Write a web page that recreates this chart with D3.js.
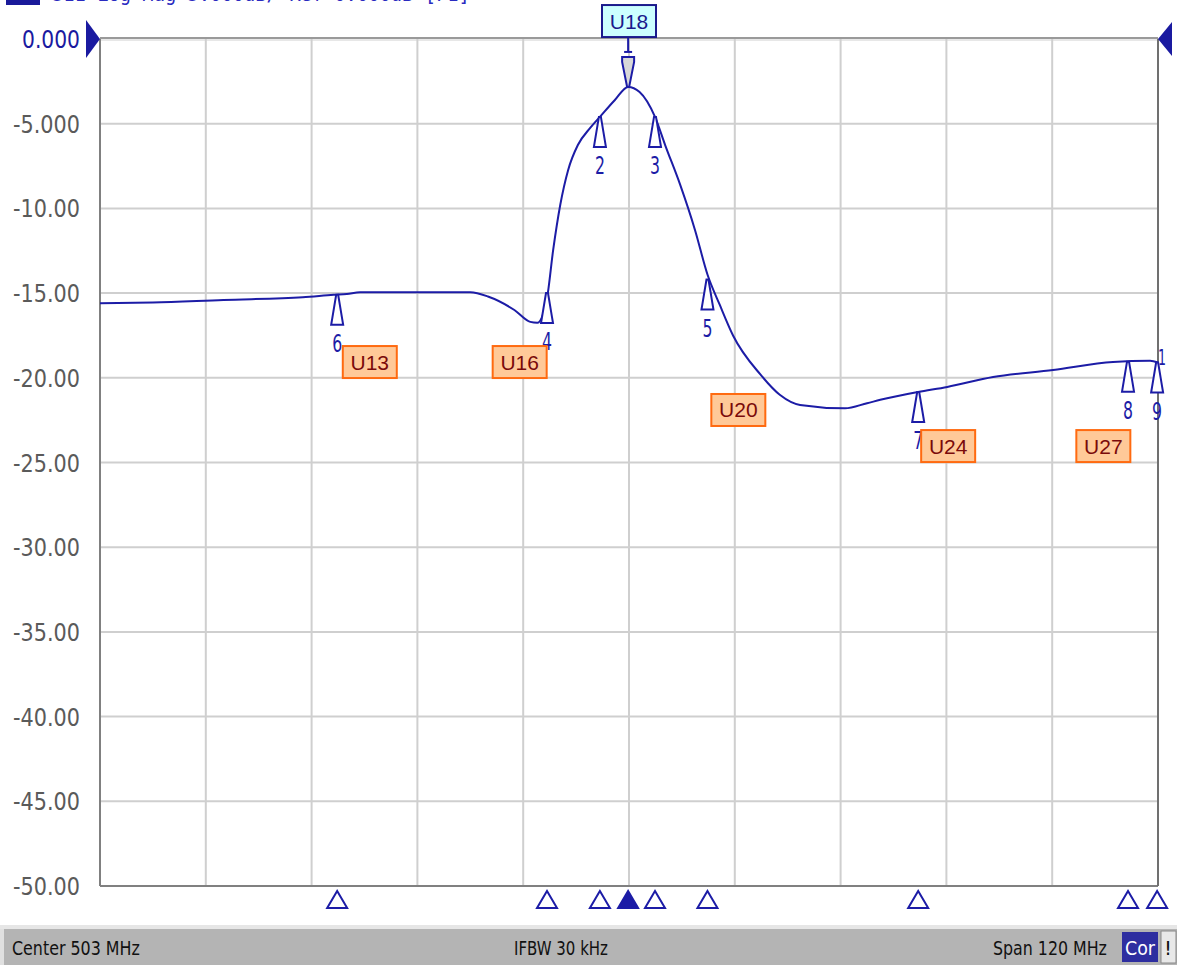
<!DOCTYPE html>
<html><head><meta charset="utf-8">
<script src="https://cdn.jsdelivr.net/npm/d3@7"></script>
<style>body{margin:0;background:#fff;overflow:hidden}</style>
</head><body><svg id="c" width="1177" height="965"></svg>
<script>
// ---- data ----
const traceFreq = [443, 449, 457, 466, 469.5, 471, 472.5, 485, 487, 490, 491.8, 492.6, 493.7, 494.4, 495.2, 496.1, 497.2, 498.6, 499.7, 501.4, 502.9, 504.2, 505.95, 507.1, 508.8, 510.5, 511.9, 513.3, 514.8, 517.9, 520.1, 522.4, 527.5, 530.0, 531.5, 535.8, 539.1, 544.3, 551.1, 557.9, 562.1, 563];
const traceDb = [-15.6, -15.55, -15.4, -15.25, -15.1, -15.05, -14.95, -14.95, -15.2, -16.0, -16.7, -16.75, -15.3, -12.45, -9.8, -7.73, -6.26, -5.25, -4.6, -3.6, -2.83, -3.13, -4.6, -6.26, -8.6, -11.3, -13.9, -15.7, -17.5, -19.8, -21.0, -21.6, -21.8, -21.5, -21.3, -20.84, -20.54, -19.95, -19.54, -19.07, -19.0, -19.1];
const markerNum = [1, 2, 3, 4, 5, 6, 7, 8, 9];
const markerFreq = [502.9, 499.7, 505.95, 493.7, 511.9, 469.9, 535.8, 559.6, 562.9];
const markerDb = [-2.83, -4.6, -4.6, -15.0, -14.2, -15.1, -20.84, -19.05, -19.1];
const yTicks = [0, -5, -10, -15, -20, -25, -30, -35, -40, -45, -50];
const yTickLabels = ["0.000", "-5.000", "-10.00", "-15.00", "-20.00", "-25.00", "-30.00", "-35.00", "-40.00", "-45.00", "-50.00"];
const xGridFreq = [443, 455, 467, 479, 491, 503, 515, 527, 539, 551, 563];
const annoText = ["U13", "U16", "U18", "U20", "U24", "U27"];
const annoFreq = [473.6, 490.6, 503.0, 515.4, 539.2, 556.8];
const annoDb = [-19.07, -19.07, 1.06, -21.9, -24.03, -24.03];
const annoActive = [false, false, true, false, false, false];
const headerText = "S11 Log Mag 5.000dB/ Ref 0.000dB [F1]";
const footerText = ["Center 503 MHz", "IFBW 30 kHz", "Span 120 MHz"];

// ---- drawing ----
const svg = d3.select("#c");
const x = d3.scaleLinear().domain([443, 563]).range([100, 1158]);
const y = d3.scaleLinear().domain([-50, 0]).range([886, 39]);
const navy = "#1c1ca6";

// condensed text helper: draws text then squeezes it horizontally to a target width
function narrowText(parent, str, px, py, width, opts) {
  const gg = parent.append("g");
  const t = gg.append("text").attr("x", 0).attr("y", 0)
    .attr("font-family", opts.family || "DejaVu Sans").attr("font-size", opts.size)
    .attr("fill", opts.fill).text(str);
  const w = t.node().getComputedTextLength();
  const sx = width / w;
  let ox = px;
  if (opts.anchor === "end") ox = px - width;
  else if (opts.anchor === "middle") ox = px - width / 2;
  gg.attr("transform", `translate(${ox},${py}) scale(${sx},1)`);
  return gg;
}

// header (clipped at top, only a sliver visible as in the reference)
svg.append("rect").attr("x", 6).attr("y", -20).attr("width", 34).attr("height", 25).attr("fill", "#1a1a9a");
narrowText(svg, headerText, 52, 1, 418, {family: "DejaVu Sans Mono", size: 22, fill: "#2a2ac0"});

// grid
const g = svg.append("g");
g.selectAll("line.vx").data(xGridFreq.slice(1, -1)).join("line")
  .attr("x1", d => x(d)).attr("x2", d => x(d)).attr("y1", y(0)).attr("y2", y(-50))
  .attr("stroke", "#cfcfcf").attr("stroke-width", 2);
g.selectAll("line.hy").data(yTicks.slice(1, -1)).join("line")
  .attr("x1", x(443)).attr("x2", x(563)).attr("y1", d => y(d)).attr("y2", d => y(d))
  .attr("stroke", "#cfcfcf").attr("stroke-width", 2);

// frame
g.append("line").attr("x1", x(443)).attr("x2", x(563)).attr("y1", y(0) - 1).attr("y2", y(0) - 1).attr("stroke", "#9a9a9a").attr("stroke-width", 2);
g.append("line").attr("x1", x(443)).attr("x2", x(563)).attr("y1", y(0) + 1).attr("y2", y(0) + 1).attr("stroke", "#d0d0d0").attr("stroke-width", 1);
g.append("line").attr("x1", x(443)).attr("x2", x(563)).attr("y1", y(-50)).attr("y2", y(-50)).attr("stroke", "#808080").attr("stroke-width", 2);
g.append("line").attr("x1", x(443)).attr("x2", x(443)).attr("y1", y(0)).attr("y2", y(-50)).attr("stroke", "#808080").attr("stroke-width", 2);
g.append("line").attr("x1", x(563)).attr("x2", x(563)).attr("y1", y(0)).attr("y2", y(-50)).attr("stroke", "#707070").attr("stroke-width", 2);

// y labels
yTicks.forEach((d, i) => {
  narrowText(svg, yTickLabels[i], 80, y(d) + 9, yTickLabels[i].length === 5 ? 58 : 67,
    {size: 25, fill: i === 0 ? "#1a1aa0" : "#5a5a5a", anchor: "end"});
});

// reference triangles
svg.append("path").attr("d", `M86,${y(0) - 19}L${x(443)},${y(0)}L86,${y(0) + 19}Z`).attr("fill", "#1a1aa0");
svg.append("path").attr("d", `M1172,${y(0) - 17}L${x(563)},${y(0)}L1172,${y(0) + 17}Z`).attr("fill", "#1a1aa0");

// trace
const pts = traceFreq.map((f, i) => [f, traceDb[i]]);
svg.append("path").datum(pts)
  .attr("d", d3.line().x(d => x(d[0])).y(d => y(d[1])).curve(d3.curveMonotoneX))
  .attr("fill", "none").attr("stroke", navy).attr("stroke-width", 2);

// markers on trace
const mk = markerNum.map((n, i) => ({n, f: markerFreq[i], db: markerDb[i]}));
mk.forEach(m => {
  const mx = x(m.f), my = y(m.db);
  if (m.n === 1) {
    svg.append("path").attr("d", `M${mx - 6},${my - 30}L${mx + 6},${my - 30}L${mx + 6},${my - 25}L${mx + 1},${my}L${mx - 1},${my}L${mx - 6},${my - 25}Z`)
      .attr("fill", "#d8d8d8").attr("stroke", navy).attr("stroke-width", 2);
    svg.append("line").attr("x1", mx).attr("x2", mx).attr("y1", my - 35).attr("y2", my - 52).attr("stroke", navy).attr("stroke-width", 2);
    svg.append("line").attr("x1", mx - 4).attr("x2", mx + 4).attr("y1", my - 35).attr("y2", my - 35).attr("stroke", navy).attr("stroke-width", 2);
  } else {
    svg.append("path").attr("d", `M${mx - 1},${my}L${mx + 1},${my}L${mx + 5},${my + 24}L${mx + 6},${my + 30}L${mx - 6},${my + 30}L${mx - 5},${my + 24}Z`)
      .attr("fill", "#fff").attr("stroke", navy).attr("stroke-width", 2);
    narrowText(svg, String(m.n), mx, my + 57, 10, {size: 24, fill: navy, anchor: "middle"});
  }
});
// overflow "1" at right edge
narrowText(svg, "1", x(563) + 4, y(-18.9) + 6, 8, {size: 22, fill: navy, anchor: "middle"});

// bottom marker triangles
mk.forEach(m => {
  const mx = x(m.f), by = y(-50) + 5;
  svg.append("path").attr("d", `M${mx},${by}L${mx + 10},${by + 17}L${mx - 10},${by + 17}Z`)
    .attr("fill", m.n === 1 ? navy : "#fff").attr("stroke", navy).attr("stroke-width", 2);
});

// annotation boxes
annoText.forEach((t, i) => {
  const cx = x(annoFreq[i]), cy = y(annoDb[i]);
  const act = annoActive[i];
  svg.append("rect").attr("x", cx - 27).attr("y", cy - 16).attr("width", 54).attr("height", 32)
    .attr("fill", act ? "#ccffff" : "#ffc998").attr("stroke", act ? "#1a1a8c" : "#ff6a10").attr("stroke-width", 2);
  svg.append("text").attr("x", cx).attr("y", cy + 7.5).attr("text-anchor", "middle")
    .attr("font-family", "Liberation Sans, Arial").attr("font-size", 21)
    .attr("fill", act ? "#1a1a8c" : "#7a0a0a").text(t);
});

// footer bar
svg.append("rect").attr("x", 0).attr("y", 925).attr("width", 1177).attr("height", 40).attr("fill", "#b4b4b4");
svg.append("rect").attr("x", 0).attr("y", 925).attr("width", 1177).attr("height", 4).attr("fill", "#e6e6e6");
svg.append("rect").attr("x", 0).attr("y", 929).attr("width", 4).attr("height", 36).attr("fill", "#e0e0e0");
const fx = [12, 514, 993], fw = [128, 94, 114];
footerText.forEach((t, i) => narrowText(svg, t, fx[i], 955, fw[i], {size: 20, fill: "#111"}));
svg.append("rect").attr("x", 1122).attr("y", 932).attr("width", 36).attr("height", 30).attr("fill", "#2e2ea0");
narrowText(svg, "Cor", 1140, 955, 30, {size: 20, fill: "#fff", anchor: "middle"});
svg.append("rect").attr("x", 1161).attr("y", 931).attr("width", 15).attr("height", 32).attr("fill", "#e8e8e8").attr("stroke", "#888").attr("stroke-width", 1);
svg.append("text").attr("x", 1168).attr("y", 955).attr("text-anchor", "middle")
  .attr("font-family", "DejaVu Sans").attr("font-size", 20).attr("fill", "#111").text("!");
</script></body></html>
